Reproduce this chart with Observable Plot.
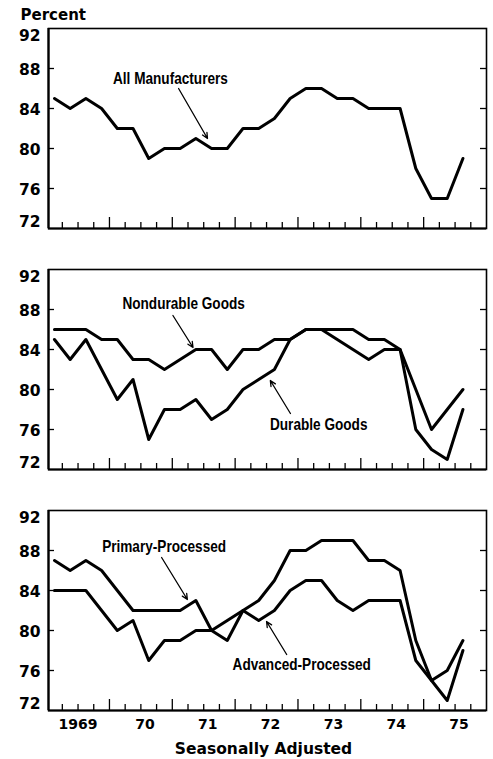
<!DOCTYPE html>
<html>
<head>
<meta charset="utf-8">
<script src="https://cdn.jsdelivr.net/npm/d3@7"></script>
<script src="https://cdn.jsdelivr.net/npm/@observablehq/plot@0.6"></script>
<style>
  html, body { margin: 0; padding: 0; background: #fff; }
  #chart svg { display: block; }
</style>
</head>
<body>
<div id="chart"></div>
<script>
// ---- Data ----
const quarters = [
  "1969Q1","1969Q2","1969Q3","1969Q4",
  "1970Q1","1970Q2","1970Q3","1970Q4",
  "1971Q1","1971Q2","1971Q3","1971Q4",
  "1972Q1","1972Q2","1972Q3","1972Q4",
  "1973Q1","1973Q2","1973Q3","1973Q4",
  "1974Q1","1974Q2","1974Q3","1974Q4",
  "1975Q1","1975Q2","1975Q3"
];
const allManufacturers = [85,84,85,84, 82,82,79,80, 80,81,80,80, 82,82,83,85, 86,86,85,85, 84,84,84,78, 75,75,79];
const nondurableGoods  = [86,86,86,85, 85,83,83,82, 83,84,84,82, 84,84,85,85, 86,86,86,86, 85,85,84,80, 76,78,80];
const durableGoods     = [85,83,85,82, 79,81,75,78, 78,79,77,78, 80,81,82,85, 86,86,85,84, 83,84,84,76, 74,73,78];
const primaryProcessed = [87,86,87,86, 84,82,82,82, 82,83,80,81, 82,83,85,88, 88,89,89,89, 87,87,86,79, 75,76,79];
const advancedProcessed= [84,84,84,82, 80,81,77,79, 79,80,80,79, 82,81,82,84, 85,85,83,82, 83,83,83,77, 75,73,78];

const yTicks = [72,76,80,84,88,92];
const years = [1969,1970,1971,1972,1973,1974,1975];
const yearLabels = ["1969","70","71","72","73","74","75"];

// annotation labels and arrows (in data units: year, percent)
const annotations1 = [
  {label: "All Manufacturers", x: 1970.97, y: 87.0, x1: 1971.10, y1: 86.0, x2: 1971.56, y2: 81.0}
];
const annotations2 = [
  {label: "Nondurable Goods", x: 1971.18, y: 88.6, x1: 1971.01, y1: 87.4, x2: 1971.33, y2: 84.2},
  {label: "Durable Goods",    x: 1973.33, y: 76.5, x1: 1972.88, y1: 77.6, x2: 1972.56, y2: 80.9}
];
const annotations3 = [
  {label: "Primary-Processed",  x: 1970.87, y: 88.4, x1: 1970.83, y1: 87.3, x2: 1971.24, y2: 83.1},
  {label: "Advanced-Processed", x: 1973.06, y: 76.6, x1: 1972.82, y1: 77.6, x2: 1972.50, y2: 80.9}
];

// ---- Build ----
const quarterX = q => +q.slice(0, 4) + (+q.slice(5) - 0.5) / 4;
const toRows = (name, values) => values.map((v, i) => ({series: name, x: quarterX(quarters[i]), y: v}));

const W = 493, ML = 48, MR = 7, PH = 200;
const FW = W - ML - MR;
const xDomain = [1969.03, 1976];
const yDomain = [yTicks[0], yTicks[yTicks.length - 1]];
const quarterTicks = years.flatMap(y => [y + 0.25, y + 0.5, y + 0.75]);
const yearTicks = years.slice(1);
const font = "DejaVu Sans, Verdana, sans-serif";
const annotFont = "'Liberation Sans', Arial, sans-serif";

function panel({series, annotations, top, bottom, extra = []}) {
  const rows = series.flatMap(s => toRows(s.name, s.values));
  return Plot.plot({
    width: W,
    height: top + PH + bottom,
    marginLeft: ML, marginRight: MR, marginTop: top, marginBottom: bottom,
    style: {fontFamily: font, background: "#fff", color: "#000"},
    x: {domain: xDomain, axis: null},
    y: {domain: yDomain, axis: null},
    marks: [
      Plot.ruleX(quarterTicks, {x: d => d, insetTop: PH - 6, stroke: "#000", strokeWidth: 1.3}),
      Plot.ruleX(yearTicks, {x: d => d, insetTop: PH - 11, stroke: "#000", strokeWidth: 1.3}),
      Plot.ruleY(yTicks.slice(1, -1), {y: d => d, insetRight: FW - 6, stroke: "#000", strokeWidth: 1.3}),
      Plot.ruleY(yTicks.slice(1, -1), {y: d => d, insetLeft: FW - 6, stroke: "#000", strokeWidth: 1.3}),
      Plot.frame({stroke: "#000", strokeWidth: 1.6}),
      Plot.ruleX([xDomain[0]], {x: d => d, stroke: "#000", strokeWidth: 2.2}),
      Plot.ruleY([yDomain[0]], {y: d => d, stroke: "#000", strokeWidth: 2.2}),
      Plot.line(rows, {x: "x", y: "y", z: "series", stroke: "#000", strokeWidth: 3, strokeLinejoin: "round", strokeLinecap: "round"}),
      Plot.arrow(annotations, {x1: "x1", y1: "y1", x2: "x2", y2: "y2", stroke: "#000", strokeWidth: 1.3, headLength: 7, headAngle: 50}),
      Plot.text(annotations, {x: "x", y: "y", text: "label", fontFamily: annotFont, fontWeight: "bold", fontSize: 17, fill: "#000"}),
      Plot.text(yTicks.slice(1, -1), {y: d => d, text: d => String(d), frameAnchor: "left", textAnchor: "end", lineAnchor: "middle", dx: -8, dy: 2, fontSize: 15.5, fontWeight: "bold", fill: "#000"}),
      Plot.text([yDomain[1]], {y: d => d, text: d => String(d), frameAnchor: "left", textAnchor: "end", lineAnchor: "middle", dx: -8, dy: 8, fontSize: 15.5, fontWeight: "bold", fill: "#000"}),
      Plot.text([yDomain[0]], {y: d => d, text: d => String(d), frameAnchor: "left", textAnchor: "end", lineAnchor: "middle", dx: -8, dy: -6, fontSize: 15.5, fontWeight: "bold", fill: "#000"}),
      ...extra
    ]
  });
}

const chart = document.getElementById("chart");

const p1 = panel({
  series: [{name: "All Manufacturers", values: allManufacturers}],
  annotations: annotations1, top: 28, bottom: 13,
  extra: [Plot.text(["Percent"], {frameAnchor: "top-left", textAnchor: "start", lineAnchor: "middle", dx: -28, dy: -13, fontSize: 15, fontWeight: "bold", fill: "#000"})]
});
const p2 = panel({
  series: [{name: "Nondurable Goods", values: nondurableGoods}, {name: "Durable Goods", values: durableGoods}],
  annotations: annotations2, top: 28, bottom: 13
});
const p3 = panel({
  series: [{name: "Primary-Processed", values: primaryProcessed}, {name: "Advanced-Processed", values: advancedProcessed}],
  annotations: annotations3, top: 28, bottom: 49,
  extra: [
    Plot.text(years.slice(0, 1), {x: d => d + 0.5, text: (d, i) => yearLabels[i], frameAnchor: "bottom", lineAnchor: "middle", dy: 14, fontSize: 14, fontWeight: "bold", fill: "#000"}),
    Plot.text(years.slice(1), {x: d => d + 0.5, text: (d, i) => yearLabels[i + 1], frameAnchor: "bottom", lineAnchor: "middle", dy: 14, dx: 4, fontSize: 14, fontWeight: "bold", fill: "#000"}),
    Plot.text(["Seasonally Adjusted"], {frameAnchor: "bottom", lineAnchor: "middle", dy: 39, dx: -4, fontSize: 15.5, fontWeight: "bold", fill: "#000"})
  ]
});
chart.append(p1, p2, p3);

// condense the annotation labels (the original uses a narrow bold face)
const annotLabels = new Set([...annotations1, ...annotations2, ...annotations3].map(a => a.label));
chart.querySelectorAll("text").forEach(t => {
  if (annotLabels.has(t.textContent)) {
    const len = t.getComputedTextLength();
    t.setAttribute("textLength", (len * 0.8).toFixed(1));
    t.setAttribute("lengthAdjust", "spacingAndGlyphs");
  }
});
</script>
</body>
</html>
